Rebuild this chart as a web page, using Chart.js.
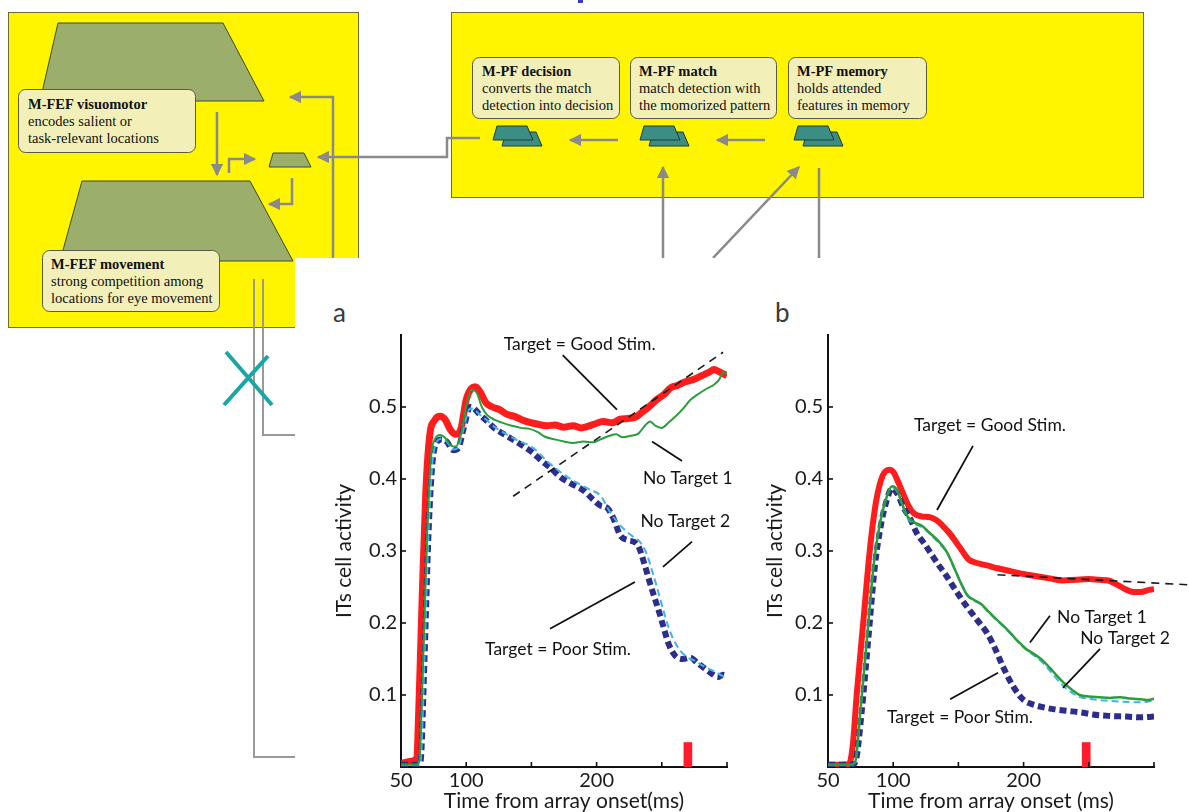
<!DOCTYPE html>
<html>
<head>
<meta charset="utf-8">
<script src="https://cdn.jsdelivr.net/npm/chart.js@4.4.1/dist/chart.umd.min.js"></script>
<style>
  html, body { margin: 0; padding: 0; background: #fff; width: 1189px; height: 812px; overflow: hidden; }
  #diagram { position: absolute; left: 0; top: 0; }
  #chartA { position: absolute; left: 300px; top: 290px; }
  #chartB { position: absolute; left: 760px; top: 290px; }
  .serif { font-family: "Liberation Serif", "Times New Roman", serif; font-size: 14.5px; fill: #111; }
  .serif .hd { font-weight: bold; }
</style>
</head>
<body>
<svg id="diagram" width="1189" height="812" xmlns="http://www.w3.org/2000/svg">
  <defs>
    <marker id="head" viewBox="0 0 10 10" refX="9" refY="5" markerWidth="5" markerHeight="5" orient="auto" markerUnits="strokeWidth">
      <path d="M0,0 L10,5 L0,10 z" fill="#8a8a8a"/>
    </marker>
    <g id="layer">
      <polygon points="13,6 43,6 49,20 9,20" fill="#3c8d84" stroke="#1d3d38" stroke-width="1"/>
      <polygon points="4,0 34,0 40,14 0,14" fill="#3c8d84" stroke="#1d3d38" stroke-width="1"/>
    </g>
  </defs>

  <rect x="578" y="0" width="5" height="3" fill="#3a3acc"/>

  <!-- frontal eye field module -->
  <rect x="8.5" y="12.5" width="350" height="315" fill="#fff500" stroke="#6e6a3a" stroke-width="1"/>
  <!-- prefrontal module -->
  <rect x="451.5" y="12.5" width="692" height="185" fill="#fff500" stroke="#6e6a3a" stroke-width="1"/>

  <g fill="#9bae6b" stroke="#3e4a2a" stroke-width="1">
    <polygon points="58,23 223,23 264,101 40,101"/>
    <polygon points="82,181 250,181 293,261 60,261"/>
    <polygon points="273,153 304,153 311,167 269,167"/>
  </g>

  <g fill="#f2f0b8" stroke="#5a5a4a" stroke-width="1">
    <rect x="18.5" y="89.5" width="177" height="63" rx="7"/>
    <rect x="42.5" y="250.5" width="177" height="61" rx="7"/>
    <rect x="472.5" y="57.5" width="147" height="61" rx="7"/>
    <rect x="630.5" y="57.5" width="146" height="61" rx="7"/>
    <rect x="788.5" y="57.5" width="138" height="61" rx="7"/>
  </g>

  <g class="serif">
    <text x="28" y="109" class="hd">M-FEF visuomotor</text>
    <text x="28" y="126">encodes salient or</text>
    <text x="28" y="143">task-relevant locations</text>

    <text x="51" y="269" class="hd">M-FEF movement</text>
    <text x="51" y="286">strong competition among</text>
    <text x="51" y="303">locations for eye movement</text>

    <text x="482" y="76" class="hd">M-PF decision</text>
    <text x="482" y="93">converts the match</text>
    <text x="482" y="110">detection into decision</text>

    <text x="639" y="76" class="hd">M-PF match</text>
    <text x="639" y="93">match detection with</text>
    <text x="639" y="110">the momorized pattern</text>

    <text x="797" y="76" class="hd">M-PF memory</text>
    <text x="797" y="93">holds attended</text>
    <text x="797" y="110">features in memory</text>
  </g>

  <use href="#layer" x="493" y="126"/>
  <use href="#layer" x="640" y="126"/>
  <use href="#layer" x="794" y="126"/>

  <g fill="none" stroke="#8a8a8a" stroke-width="2.5">
    <path d="M217,112 V175" marker-end="url(#head)"/>
    <path d="M229,173 V159 H255" marker-end="url(#head)"/>
    <path d="M292,178 V204 H269" marker-end="url(#head)"/>
    <path d="M333,258 V97 H290" marker-end="url(#head)"/>
    <path d="M480,138 H447 V157 H318" marker-end="url(#head)"/>
    <path d="M618,140 H570" marker-end="url(#head)"/>
    <path d="M765,140 H717" marker-end="url(#head)"/>
    <path d="M663,258 V167" marker-end="url(#head)"/>
    <path d="M713,258 L799,167" marker-end="url(#head)"/>
    <path d="M819,168 V258"/>
  </g>

  <!-- panel holding the two activity plots -->
  <rect x="295" y="258" width="894" height="554" fill="#fff"/>

  <g fill="none" stroke="#999" stroke-width="2">
    <path d="M254,279 V757 H295"/>
    <path d="M263,279 V435 H295"/>
  </g>
  <path d="M226,352 L272,405 M224,405 L268,356" stroke="#1aa6a6" stroke-width="4" fill="none"/>

  <text x="333" y="322" font-family="Lato" font-size="26" fill="#3a3a3a">a</text>
  <text x="775" y="322" font-family="Lato" font-size="26" fill="#3a3a3a">b</text>
</svg>

<canvas id="chartA" width="460" height="522"></canvas>
<canvas id="chartB" width="429" height="522"></canvas>

<script>
// Axis ticks
const TICKS_X = [50, 100, 150, 200, 250, 300];
const LABELED_X = [50, 100, 200];
const TICKS_Y = [0.1, 0.2, 0.3, 0.4, 0.5];

// Panel a: time (ms) and ITs activity per condition
const goodA_t = [50,58,62,64,66,69,72,76,80,84,88,92,96,100,104,107,111,115,120,126,131,137,143,148,155,162,168,175,182,188,193,198,205,212,218,224,230,235,240,246,252,257,262,268,274,280,286,290,294,297,300];
const goodA_v = [0.005,0.008,0.012,0.1,0.22,0.38,0.46,0.482,0.487,0.482,0.468,0.462,0.47,0.51,0.526,0.528,0.52,0.506,0.5,0.496,0.49,0.487,0.482,0.479,0.476,0.474,0.475,0.472,0.474,0.471,0.473,0.476,0.48,0.478,0.483,0.484,0.486,0.493,0.5,0.51,0.518,0.527,0.53,0.535,0.538,0.543,0.548,0.552,0.549,0.546,0.544];

const noTarget1A_t = [50,62,64,67,70,73,76,80,84,88,92,96,100,104,108,112,116,122,128,135,142,148,155,160,168,175,182,190,197,203,210,215,220,226,232,237,241,245,250,255,260,266,272,278,284,290,294,297,300];
const noTarget1A_v = [0.003,0.003,0.008,0.15,0.32,0.43,0.455,0.461,0.457,0.447,0.445,0.462,0.5,0.524,0.52,0.5,0.489,0.482,0.478,0.474,0.471,0.47,0.465,0.459,0.455,0.452,0.45,0.452,0.451,0.455,0.46,0.462,0.458,0.46,0.463,0.474,0.48,0.474,0.471,0.478,0.486,0.497,0.51,0.518,0.525,0.531,0.538,0.548,0.546];

const noTarget2A_t = [50,63,65,68,71,74,77,81,85,90,94,98,103,106,110,115,122,130,140,150,165,180,195,203,210,216,223,228,233,238,243,247,251,255,259,264,269,276,282,290,296,300];
const noTarget2A_v = [0.003,0.003,0.008,0.15,0.32,0.42,0.45,0.456,0.452,0.441,0.444,0.47,0.498,0.497,0.49,0.483,0.472,0.463,0.453,0.445,0.42,0.4,0.385,0.377,0.355,0.34,0.327,0.32,0.313,0.298,0.27,0.245,0.219,0.195,0.177,0.162,0.153,0.147,0.14,0.133,0.127,0.122];

const poorA_t = [50,63,65,68,71,74,77,81,85,90,94,98,103,106,110,115,122,130,140,150,158,165,172,180,190,197,203,208,213,218,224,231,237,241,245,249,252,255,260,266,272,277,282,288,293,297,300];
const poorA_v = [0.003,0.003,0.008,0.15,0.32,0.42,0.45,0.455,0.452,0.44,0.443,0.47,0.5,0.498,0.49,0.482,0.47,0.461,0.45,0.438,0.425,0.415,0.403,0.394,0.384,0.372,0.363,0.36,0.345,0.322,0.315,0.31,0.28,0.255,0.232,0.209,0.19,0.172,0.155,0.15,0.152,0.145,0.138,0.13,0.125,0.128,0.126];

const trendA_t = [136, 297];
const trendA_v = [0.376, 0.576];
const markA_t = [270];
const markA_v = [0.034];

// Panel b
const goodB_t = [50,66,69,72,77,82,87,92,97,100,104,108,112,116,122,128,133,138,143,148,153,158,165,172,180,190,200,210,220,230,240,250,258,265,272,278,284,290,296,300];
const goodB_v = [0.003,0.004,0.03,0.1,0.2,0.3,0.37,0.405,0.413,0.41,0.395,0.378,0.362,0.352,0.348,0.347,0.343,0.335,0.325,0.313,0.3,0.288,0.283,0.28,0.276,0.272,0.268,0.265,0.262,0.259,0.26,0.261,0.26,0.259,0.253,0.247,0.243,0.243,0.246,0.247];

const noTarget1B_t = [50,68,71,75,80,85,90,95,99,103,107,111,116,122,128,134,141,146,152,157,162,167,172,178,184,190,196,202,208,214,220,226,232,238,243,250,258,266,274,282,290,296,300];
const noTarget1B_v = [0.003,0.003,0.008,0.08,0.18,0.28,0.34,0.375,0.39,0.385,0.365,0.348,0.34,0.335,0.325,0.315,0.299,0.28,0.255,0.238,0.232,0.227,0.218,0.207,0.197,0.186,0.174,0.164,0.157,0.149,0.138,0.126,0.115,0.106,0.1,0.098,0.097,0.096,0.097,0.095,0.094,0.093,0.095];

const noTarget2B_t = [50,68,71,75,80,85,90,95,99,103,107,111,116,122,128,134,141,146,152,157,162,167,172,178,184,190,196,202,208,214,220,226,232,238,243,250,258,266,274,282,290,296,300];
const noTarget2B_v = [0.003,0.003,0.008,0.08,0.18,0.28,0.34,0.375,0.388,0.383,0.363,0.346,0.338,0.333,0.324,0.313,0.298,0.279,0.256,0.239,0.231,0.226,0.217,0.206,0.196,0.185,0.173,0.163,0.155,0.146,0.134,0.121,0.11,0.102,0.097,0.095,0.093,0.092,0.091,0.09,0.09,0.091,0.092];

const poorB_t = [50,68,71,76,81,86,91,95,99,103,108,113,118,124,128,135,141,148,156,164,172,178,184,192,200,207,215,224,233,243,253,265,279,290,300];
const poorB_v = [0.003,0.003,0.007,0.08,0.18,0.28,0.34,0.37,0.387,0.38,0.36,0.345,0.325,0.31,0.299,0.28,0.265,0.245,0.224,0.205,0.186,0.165,0.14,0.112,0.093,0.087,0.083,0.08,0.078,0.076,0.073,0.071,0.07,0.069,0.07];

const trendB_t = [180, 327];
const trendB_v = [0.267, 0.253];
const markB_t = [248];
const markB_v = [0.034];

const FONT = 'Lato, "Open Sans", sans-serif';

function pts(t, v) { return t.map((x, i) => ({ x: x, y: v[i] })); }

function curve(t, v, style) {
  return Object.assign({
    type: 'line', data: pts(t, v), pointRadius: 0, fill: false,
    cubicInterpolationMode: 'monotone', borderCapStyle: 'butt', borderJoinStyle: 'round'
  }, style);
}

function panelSets(p) {
  return [
    curve(p.trend[0], p.trend[1], { borderColor: '#1a1a1a', borderWidth: 1.6, borderDash: [8, 6], order: 0, clip: false, cubicInterpolationMode: 'default', tension: 0 }),
    curve(p.nt1[0], p.nt1[1], { borderColor: '#2a9d3c', borderWidth: p.thinW, order: 1 }),
    curve(p.nt2[0], p.nt2[1], { borderColor: '#3fb4ea', borderWidth: 2, borderDash: [7, 4], order: 2 }),
    curve(p.poor[0], p.poor[1], { borderColor: '#2d2d8c', borderWidth: 6, borderDash: [7, 4], order: 3 }),
    curve(p.good[0], p.good[1], { borderColor: '#ff1c1c', borderWidth: p.redW, order: 4 }),
    { type: 'bar', data: pts(p.mark[0], p.mark[1]), backgroundColor: '#ff1a2c', barThickness: 8, order: 5 }
  ];
}

// Inward ticks plus the in-plot condition labels with their leader lines
function decor(notes) {
  return {
    id: 'decor',
    afterDatasetsDraw(chart) {
      const ctx = chart.ctx, xs = chart.scales.x, ys = chart.scales.y;
      ctx.save();
      ctx.strokeStyle = '#111';
      ctx.lineWidth = 1.6;
      TICKS_X.forEach(v => {
        if (v === xs.min) return;
        const p = xs.getPixelForValue(v);
        ctx.beginPath(); ctx.moveTo(p, ys.bottom); ctx.lineTo(p, ys.bottom - 5); ctx.stroke();
      });
      TICKS_Y.forEach(v => {
        const p = ys.getPixelForValue(v);
        ctx.beginPath(); ctx.moveTo(xs.left, p); ctx.lineTo(xs.left + 5, p); ctx.stroke();
      });
      ctx.font = '17.5px ' + FONT;
      ctx.fillStyle = '#111';
      ctx.textAlign = 'center';
      ctx.textBaseline = 'middle';
      ctx.lineWidth = 1.8;
      notes.forEach(n => {
        ctx.fillText(n.text, xs.getPixelForValue(n.at[0]), ys.getPixelForValue(n.at[1]));
        ctx.beginPath();
        ctx.moveTo(xs.getPixelForValue(n.from[0]), ys.getPixelForValue(n.from[1]));
        ctx.lineTo(xs.getPixelForValue(n.to[0]), ys.getPixelForValue(n.to[1]));
        ctx.stroke();
      });
      ctx.restore();
    }
  };
}

function build(id, datasets, cfg) {
  return new Chart(document.getElementById(id), {
    type: 'line',
    data: { datasets: datasets },
    options: {
      responsive: false,
      animation: false,
      devicePixelRatio: 1,
      layout: { padding: { top: 45, right: cfg.padRight, left: 0, bottom: 0 } },
      plugins: { legend: { display: false }, tooltip: { enabled: false } },
      scales: {
        x: {
          type: 'linear', min: 50, max: 300, offset: false,
          afterBuildTicks: s => { s.ticks = TICKS_X.map(v => ({ value: v })); },
          ticks: {
            autoSkip: false, maxRotation: 0, padding: 2, color: '#1a1a1a',
            font: { family: FONT, size: 20 },
            callback: v => LABELED_X.includes(v) ? String(v) : ''
          },
          grid: { display: false, drawTicks: false },
          border: { display: true, color: '#111', width: 2 },
          title: { display: true, text: cfg.xTitle, color: '#1a1a1a', font: { family: FONT, size: 21, lineHeight: 1 }, padding: { top: 0, bottom: 0 } },
          afterFit: s => { s.height = 45; }
        },
        y: {
          type: 'linear', min: 0, max: 0.6,
          afterBuildTicks: s => { s.ticks = TICKS_Y.map(v => ({ value: v })); },
          ticks: {
            padding: cfg.yPad, color: '#1a1a1a',
            font: { family: FONT, size: 20 },
            callback: v => v.toFixed(1)
          },
          grid: { display: false, drawTicks: false },
          border: { display: true, color: '#111', width: 2 },
          title: { display: true, text: 'ITs cell activity', color: '#1a1a1a', font: { family: FONT, size: 21 }, padding: { top: cfg.yTitlePad, bottom: 0 } },
          afterFit: s => { s.width = cfg.yWidth; }
        }
      }
    },
    plugins: [decor(cfg.notes)]
  });
}

build('chartA', panelSets({
  good: [goodA_t, goodA_v], nt1: [noTarget1A_t, noTarget1A_v], nt2: [noTarget2A_t, noTarget2A_v],
  poor: [poorA_t, poorA_v], trend: [trendA_t, trendA_v], mark: [markA_t, markA_v], redW: 7, thinW: 2
}), {
  padRight: 33, yWidth: 101, yPad: 4, yTitlePad: 32, xTitle: 'Time from array onset(ms)',
  notes: [
    { text: 'Target = Good Stim.', at: [187, 0.587], from: [174, 0.572], to: [215.6, 0.4965] },
    { text: 'No Target 1', at: [270, 0.401], from: [242.5, 0.452], to: [265.5, 0.425] },
    { text: 'No Target 2', at: [268, 0.341], from: [273.2, 0.313], to: [250.9, 0.278] },
    { text: 'Target = Poor Stim.', at: [170.4, 0.164], from: [164.3, 0.192], to: [229.4, 0.257] }
  ]
});

build('chartB', panelSets({
  good: [goodB_t, goodB_v], nt1: [noTarget1B_t, noTarget1B_v], nt2: [noTarget2B_t, noTarget2B_v],
  poor: [poorB_t, poorB_v], trend: [trendB_t, trendB_v], mark: [markB_t, markB_v], redW: 6, thinW: 2.5
}), {
  padRight: 35, yWidth: 68, yPad: 5, yTitlePad: 3, xTitle: 'Time from array onset (ms)',
  notes: [
    { text: 'Target = Good Stim.', at: [174.2, 0.474], from: [161.2, 0.446], to: [133.6, 0.357] },
    { text: 'No Target 1', at: [260.1, 0.208], from: [220.2, 0.21], to: [204.9, 0.173] },
    { text: 'No Target 2', at: [277.8, 0.178], from: [258.6, 0.164], to: [230.2, 0.11] },
    { text: 'Target = Poor Stim.', at: [151.2, 0.069], from: [143.6, 0.094], to: [180.4, 0.131] }
  ]
});
</script>
</body>
</html>
